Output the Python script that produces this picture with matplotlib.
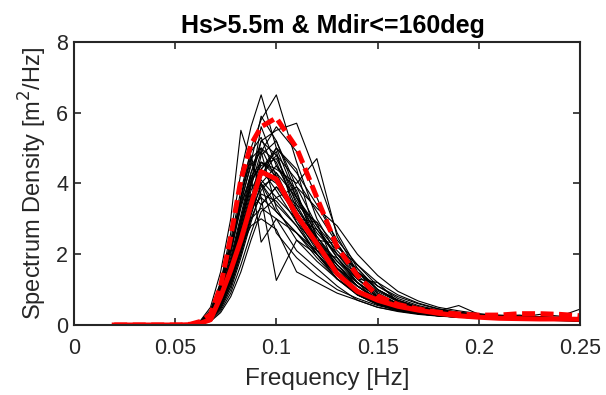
import numpy as np
import matplotlib
matplotlib.use("Agg")
import matplotlib.pyplot as plt

plt.rcParams["font.family"] = ["Liberation Sans", "DejaVu Sans"]

# ── Data ─────────────────────────────────────────────────────────────────────
freq = [0.02, 0.0325, 0.0375, 0.0425, 0.0475, 0.0525, 0.0575, 0.0625, 0.0675,
        0.0725, 0.0775, 0.0825, 0.0875, 0.0925, 0.10, 0.11, 0.12, 0.13, 0.14,
        0.15, 0.16, 0.17, 0.18, 0.19, 0.20, 0.21, 0.22, 0.23, 0.24, 0.25]

# individual spectra (one row per record)
spectra = [
    [0, 0, 0, 0, 0, 0, .02, .10, .40, 1.2, 2.6, 4.3, 5.6, 6.5, 5.0, 3.6, 2.4, 1.6, 1.1, .70, .50, .40, .30, .25, .20, .18, .15, .15, .12, .10],
    [0, 0, 0, 0, 0, 0, .01, .08, .30, .90, 2.1, 3.6, 5.0, 5.8, 6.5, 4.6, 3.0, 2.0, 1.3, .80, .55, .40, .32, .26, .22, .20, .18, .16, .14, .12],
    [0, 0, 0, 0, 0, 0, .02, .12, .50, 1.5, 3.0, 5.5, 4.6, 4.0, 3.4, 2.8, 2.0, 1.4, .90, .60, .45, .35, .28, .22, .20, .18, .16, .15, .13, .12],
    [0, 0, 0, 0, 0, 0, .01, .05, .25, .70, 1.6, 2.8, 4.0, 5.2, 5.5, 5.7, 4.2, 2.6, 1.6, 1.0, .70, .50, .38, .30, .25, .22, .20, .18, .16, .14],
    [0, 0, 0, 0, 0, 0, .01, .06, .30, .80, 1.8, 3.0, 4.2, 4.6, 4.4, 4.0, 4.7, 2.5, 1.5, .90, .60, .45, .35, .30, .26, .24, .22, .30, .25, .45],
    [0, 0, 0, 0, 0, 0, .01, .07, .35, 1.0, 2.2, 3.6, 4.8, 3.6, 1.26, 2.4, 2.0, 1.4, 1.0, .70, .50, .40, .32, .28, .24, .20, .18, .16, .14, .12],
    [0, 0, 0, 0, 0, 0, .02, .10, .40, 1.1, 2.3, 3.4, 4.2, 2.34, 3.0, 2.6, 2.0, 1.3, .90, .60, .40, .32, .26, .22, .20, .18, .16, .15, .14, .12],
    [0, 0, 0, 0, 0, 0, .01, .05, .20, .60, 1.3, 2.3, 3.5, 4.8, 5.2, 3.9, 2.8, 1.9, 1.3, .90, .60, .45, .36, .30, .26, .22, .20, .18, .16, .14],
    [0, 0, 0, 0, 0, 0, .01, .06, .28, .80, 1.7, 2.9, 4.0, 4.6, 4.2, 3.2, 2.3, 1.6, 1.0, .65, .48, .36, .30, .24, .21, .18, .16, .15, .13, .12],
    [0, 0, 0, 0, 0, 0, .02, .09, .38, 1.1, 2.3, 3.6, 4.7, 5.0, 4.1, 3.0, 2.1, 1.4, .95, .62, .45, .34, .27, .23, .20, .18, .17, .16, .14, .13],
    [0, 0, 0, 0, 0, 0, .01, .04, .18, .55, 1.2, 2.1, 3.2, 4.2, 4.8, 4.1, 3.2, 2.3, 1.5, 1.0, .70, .52, .40, .32, .27, .24, .22, .20, .18, .16],
    [0, 0, 0, 0, 0, 0, .01, .05, .22, .65, 1.4, 2.5, 3.6, 4.4, 3.8, 2.9, 2.2, 1.5, 1.0, .68, .48, .38, .30, .25, .22, .19, .17, .16, .15, .13],
    [0, 0, 0, 0, 0, 0, .01, .07, .32, .95, 2.0, 3.4, 4.6, 5.9, 5.2, 3.7, 2.5, 1.7, 1.1, .75, .52, .40, .32, .26, .22, .20, .18, .16, .15, .13],
    [0, 0, 0, 0, 0, 0, .01, .04, .15, .45, 1.0, 1.9, 2.9, 3.8, 4.3, 3.6, 2.8, 2.1, 1.5, 1.1, .80, .60, .45, .35, .28, .24, .20, .18, .16, .15],
    [0, 0, 0, 0, 0, 0, .01, .06, .25, .75, 1.6, 2.7, 3.8, 4.4, 5.0, 4.3, 3.4, 2.4, 1.7, 1.1, .75, .55, .42, .34, .28, .25, .22, .20, .18, .16],
    [0, 0, 0, 0, 0, 0, .02, .08, .34, 1.0, 2.1, 3.3, 4.3, 5.0, 4.6, 3.3, 2.4, 1.8, 1.2, .80, .56, .42, .33, .27, .23, .20, .18, .17, .15, .14],
    [0, 0, 0, 0, 0, 0, .01, .05, .20, .60, 1.3, 2.3, 3.4, 4.1, 3.6, 3.0, 2.7, 2.0, 1.4, .95, .66, .48, .40, .35, .30, .26, .22, .20, .18, .16],
    [0, 0, 0, 0, 0, 0, .01, .05, .24, .70, 1.5, 2.6, 3.7, 3.4, 3.9, 3.1, 2.2, 1.4, .85, .58, .42, .33, .28, .24, .21, .19, .17, .16, .14, .13],
    [0, 0, 0, 0, 0, 0, .01, .06, .27, .78, 1.7, 2.8, 3.9, 4.9, 5.6, 4.9, 3.6, 2.3, 1.5, 1.0, .70, .50, .40, .33, .28, .24, .22, .20, .18, .16],
    [0, 0, 0, 0, 0, 0, .02, .09, .36, 1.0, 2.2, 3.5, 4.5, 4.9, 3.3, 2.4, 1.8, 1.3, .85, .58, .40, .32, .26, .22, .20, .18, .16, .15, .14, .12],
    [0, 0, 0, 0, 0, 0, .01, .04, .17, .50, 1.1, 2.0, 3.0, 3.7, 3.5, 2.8, 2.0, 1.4, .95, .62, .44, .34, .28, .24, .21, .19, .17, .16, .15, .14],
    [0, 0, 0, 0, 0, 0, .01, .05, .22, .66, 1.4, 2.5, 3.5, 4.0, 4.5, 3.5, 2.6, 2.0, 1.6, 1.0, .65, .50, .40, .55, .30, .28, .26, .24, .22, .20],
    [0, 0, 0, 0, 0, 0, .01, .06, .30, .88, 1.9, 3.1, 4.3, 5.2, 4.8, 3.4, 2.4, 1.7, 1.1, .72, .50, .38, .30, .26, .22, .20, .18, .17, .16, .14],
    [0, 0, 0, 0, 0, 0, .01, .04, .16, .48, 1.1, 2.0, 3.1, 4.0, 3.2, 2.6, 2.1, 1.6, 1.2, .80, .58, .44, .36, .30, .26, .23, .21, .19, .17, .15],
    [0, 0, 0, 0, 0, 0, .01, .05, .21, .62, 1.3, 2.4, 3.4, 4.3, 4.0, 3.3, 2.5, 1.8, 1.3, .85, .60, .46, .38, .31, .26, .23, .21, .19, .17, .16],
    [0, 0, 0, 0, 0, 0, .02, .10, .42, 1.2, 2.4, 3.8, 4.9, 5.3, 4.2, 2.9, 2.0, 1.3, .85, .58, .42, .32, .26, .22, .20, .18, .16, .15, .14, .12],
    [0, 0, 0, 0, 0, 0, .01, .03, .12, .40, .90, 1.7, 2.6, 3.4, 3.9, 3.4, 2.9, 2.2, 1.7, 1.2, .85, .62, .46, .36, .30, .26, .23, .21, .19, .18],
    [0, 0, 0, 0, 0, 0, .01, .05, .22, .64, 1.4, 2.4, 3.3, 3.6, 3.2, 2.6, 1.9, 1.3, .90, .60, .44, .34, .28, .24, .21, .19, .17, .16, .15, .14],
    [0, 0, 0, 0, 0, 0, .01, .07, .30, .86, 1.8, 3.0, 4.1, 4.5, 4.7, 3.6, 2.7, 1.9, 1.2, .80, .56, .42, .34, .28, .24, .22, .20, .18, .16, .15],
    [0, 0, 0, 0, 0, 0, .01, .05, .20, .58, 1.3, 2.3, 3.4, 4.6, 4.3, 3.1, 2.3, 1.7, 1.2, .78, .54, .40, .32, .27, .23, .20, .18, .17, .16, .14],
    [0, 0, 0, 0, 0, 0, .01, .04, .18, .55, 1.2, 2.2, 3.2, 3.9, 4.2, 3.2, 2.3, 1.6, 1.1, .75, .55, .42, .33, .28, .24, .21, .19, .18, .17, .16],
    [0, 0, 0, 0, 0, 0, .01, .05, .20, .60, 1.3, 2.2, 2.8, 3.0, 2.7, 1.5, 1.2, .90, .70, .50, .40, .32, .26, .22, .20, .18, .16, .15, .14, .12],
    [0, 0, 0, 0, 0, 0, .01, .06, .25, .75, 1.6, 2.7, 3.6, 4.0, 2.6, 1.9, 1.4, 1.0, .75, .55, .42, .34, .28, .24, .20, .18, .16, .15, .14, .13],
    [0, 0, 0, 0, 0, 0, .01, .03, .10, .35, .80, 1.5, 2.4, 3.2, 3.6, 3.9, 3.3, 2.8, 2.0, 1.4, .95, .68, .50, .40, .32, .27, .24, .22, .20, .18],
    [0, 0, 0, 0, 0, 0, .01, .05, .22, .65, 1.4, 2.4, 3.4, 4.4, 4.9, 3.0, 2.9, 1.5, 1.1, .70, .52, .40, .33, .28, .24, .21, .19, .18, .16, .15],
    [0, 0, 0, 0, 0, 0, .01, .06, .28, .82, 1.7, 2.9, 4.0, 5.6, 4.5, 3.8, 2.1, 1.9, 1.2, .66, .48, .38, .31, .26, .23, .21, .19, .17, .16, .14],
    [0, 0, 0, 0, 0, 0, .01, .04, .18, .55, 1.2, 2.1, 3.0, 3.3, 3.0, 2.1, 1.6, 1.1, .70, .50, .38, .30, .25, .22, .20, .18, .17, .16, .15, .14],
    [0, 0, 0, 0, 0, 0, .01, .05, .20, .60, 1.3, 2.3, 3.3, 4.2, 5.0, 4.4, 2.4, 2.3, 1.3, 1.2, .65, .50, .42, .35, .29, .26, .28, .22, .20, .18],
]

# mean spectrum (red solid) and upper envelope (red dashed)
mean_spec = [0, 0, 0, 0, 0, 0, .01, .05, .15, .80, 1.55, 2.4, 3.4, 4.33, 4.12, 3.1, 2.3, 1.45, .95,
             .70, .53, .42, .33, .26, .22, .19, .18, .17, .17, .16]
upper_spec = [0, 0, 0, 0, 0, 0, .02, .10, .30, 1.1, 2.5, 4.1, 5.1, 5.6, 5.85, 5.0, 3.6, 2.2, 1.4,
              .82, .58, .45, .36, .31, .28, .28, .32, .32, .30, .26]

TITLE = "Hs>5.5m & Mdir<=160deg"
TXT = "#262626"

# ── Plot ─────────────────────────────────────────────────────────────────────
fig = plt.figure(figsize=(6.06, 3.95), dpi=100)
ax = fig.add_axes([0.1216, 0.1772, 0.836, 0.717])

for s in spectra:
    ax.plot(freq, s, color="black", linewidth=0.8)
ax.plot(freq, mean_spec, color="red", linewidth=3.6)
ax.plot(freq, upper_spec, color="red", linewidth=3.6, linestyle=(0, (2.6, 1.1)))

ax.set_xlim(0, 0.25)
ax.set_ylim(0, 8)
ax.set_xticks([0, 0.05, 0.1, 0.15, 0.2, 0.25])
ax.set_xticklabels(["0", "0.05", "0.1", "0.15", "0.2", "0.25"])
ax.set_yticks([0, 2, 4, 6, 8])
ax.tick_params(direction="in", top=True, right=True, length=5, width=1.2,
               labelsize=15.5, colors=TXT)
ax.tick_params(axis="x", pad=9)
ax.tick_params(axis="y", pad=4)
for sp in ax.spines.values():
    sp.set_linewidth(1.5)
    sp.set_color(TXT)

ax.set_xlabel("Frequency [Hz]", fontsize=17.5, color=TXT, labelpad=7)
ax.set_ylabel("Spectrum Density [m$^2$/Hz]", fontsize=17, color=TXT, labelpad=5)
ax.set_title(TITLE, fontsize=18, fontweight="bold", color="black", pad=6.5, x=0.512)

fig.savefig("out.png", dpi=100)
